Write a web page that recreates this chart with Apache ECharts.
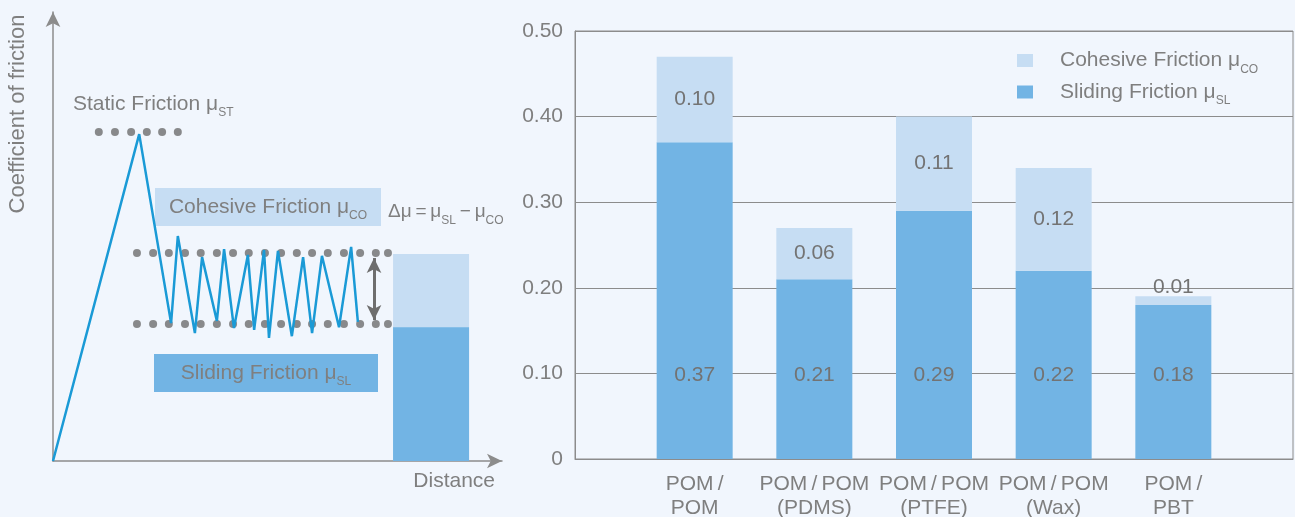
<!DOCTYPE html>
<html><head><meta charset="utf-8">
<script src="https://cdn.jsdelivr.net/npm/echarts@6/dist/echarts.min.js"></script>
<style>html,body{margin:0;padding:0;background:#f1f6fd;}#c{width:1295px;height:517px;}</style>
</head><body><div id="c"></div>
<script>
// ---------- Right chart data ----------
const categories = ['', 'POM\u2009/\nPOM', 'POM\u2009/\u2009POM\n(PDMS)', 'POM\u2009/\u2009POM\n(PTFE)', 'POM\u2009/\u2009POM\n(Wax)', 'POM\u2009/\nPBT', ''];
const slidingValues = [null, 0.37, 0.21, 0.29, 0.22, 0.18, null];
const cohesiveValues = [null, 0.10, 0.06, 0.11, 0.12, 0.01, null];
const yTickLabels = ['0', '0.10', '0.20', '0.30', '0.40', '0.50'];

// ---------- Left schematic data (arbitrary units) ----------
const frictionCurve = [[0,0],[19.2,72.8],[26.3,30.7],[27.8,50.1],[31.6,28.5],[33.2,45.4],[36.5,31.2],[38.1,47.2],[40.3,29.6],[43.4,45.9],[44.8,29.2],[47.0,47.0],[48.1,27.4],[50.1,46.8],[53.2,27.8],[55.7,45.4],[57.7,28.5],[59.9,45.7],[63.7,29.8],[66.4,47.7],[67.9,31.0]];
const staticLevel = 73.3;
const staticDotsX = [10.2, 13.8, 17.4, 20.9, 24.3, 27.8];
const cohesiveLevel = 46.3;
const slidingLevel = 30.5;
const levelDotsX = [18.7, 22.3, 25.8, 29.4, 32.9, 36.5, 40.1, 43.6, 47.2, 50.8, 54.3, 57.7, 61.2, 64.8, 68.4, 71.9, 74.6];
const deltaArrowX = 71.5;
const deltaArrowEnds = [45.2, 31.4];
const schematicBarX = 84.2;
const schematicSliding = 29.8;
const schematicCohesive = 16.3;

const FONT = 'Liberation Sans';
const TXT = '#7f7f7f';
const LIGHT = '#c6ddf3';
const MID = '#72b4e4';
const AX = '#8c8c8c';

function richStyles(extra) {
  const base = Object.assign({fontSize: 21, fontFamily: FONT, color: TXT, fill: TXT, lineHeight: 30}, extra || {});
  return {
    n: base,
    p: Object.assign({}, base, {padding: [0, 0, 0, 22]}),
    s: {fontSize: 12, fontFamily: FONT, color: TXT, fill: TXT, lineHeight: 10, verticalAlign: 'bottom', align: base.align}
  };
}

const chart = echarts.init(document.getElementById('c'));
const legendSubs = {'Cohesive Friction': 'CO', 'Sliding Friction': 'SL'};

chart.setOption({
  backgroundColor: '#f1f6fd',
  animation: false,
  textStyle: {fontFamily: FONT},
  grid: [
    {left: 575, top: 31, right: 2, bottom: 58, show: true, borderColor: AX, borderWidth: 1, backgroundColor: 'transparent',
      containLabel: false, outerBoundsMode: 'none'},
    {left: 53, top: 12, width: 449, height: 449, containLabel: false, outerBoundsMode: 'none'}
  ],
  legend: {
    orient: 'vertical', left: 1017, top: 50, padding: 0, itemGap: 6,
    itemWidth: 16, itemHeight: 13, icon: 'rect',
    data: ['Cohesive Friction', 'Sliding Friction'],
    formatter: name => '{p|' + name + ' \u03bc}{s|' + legendSubs[name] + '}',
    textStyle: {rich: richStyles()}
  },
  xAxis: [
    {
      type: 'category', gridIndex: 0, data: categories, boundaryGap: false,
      axisLine: {lineStyle: {color: AX, width: 1}},
      axisTick: {show: false},
      axisLabel: {interval: 0, color: TXT, fontSize: 21, fontFamily: FONT, lineHeight: 24, margin: 13},
      splitLine: {show: false}
    },
    {
      type: 'value', gridIndex: 1, min: 0, max: 100,
      axisLine: {show: true, onZero: false, symbol: ['none', 'arrow'], symbolSize: [11, 15], lineStyle: {color: AX, width: 1.5}},
      axisTick: {show: false}, axisLabel: {show: false}, splitLine: {show: false}
    }
  ],
  yAxis: [
    {
      type: 'value', gridIndex: 0, min: 0, max: 0.5, interval: 0.1,
      axisLine: {show: true, lineStyle: {color: AX, width: 1}},
      axisTick: {show: false},
      axisLabel: {color: TXT, fontSize: 21, fontFamily: FONT, margin: 12, padding: [4, 0, 0, 0],
        formatter: v => yTickLabels[Math.round(v * 10)]},
      splitLine: {lineStyle: {color: AX, width: 1}}
    },
    {
      type: 'value', gridIndex: 1, min: 0, max: 100,
      axisLine: {show: true, onZero: false, symbol: ['none', 'arrow'], symbolSize: [11, 15], lineStyle: {color: AX, width: 1.5}},
      axisTick: {show: false}, axisLabel: {show: false}, splitLine: {show: false}
    }
  ],
  series: [
    {
      name: 'Sliding Friction', type: 'bar', stack: 'mu', xAxisIndex: 0, yAxisIndex: 0,
      barWidth: 76, data: slidingValues, itemStyle: {color: MID},
      label: {show: true, position: 'insideBottom', distance: 73, color: '#737373', fontSize: 21, fontFamily: FONT,
        formatter: p => p.value.toFixed(2)}
    },
    {
      name: 'Cohesive Friction', type: 'bar', stack: 'mu', xAxisIndex: 0, yAxisIndex: 0,
      barWidth: 76, itemStyle: {color: LIGHT},
      data: cohesiveValues.map((v, i) => (v !== null && v < 0.03) ? {value: v, label: {position: 'top', distance: -1}} : v),
      label: {show: true, position: 'inside', color: '#737373', fontSize: 21, fontFamily: FONT,
        formatter: p => p.value.toFixed(2)}
    },
    // schematic: total (light) behind, sliding (mid) in front
    {
      type: 'bar', xAxisIndex: 1, yAxisIndex: 1, barWidth: 76, barGap: '-100%',
      data: [[schematicBarX, schematicSliding + schematicCohesive]], itemStyle: {color: LIGHT}, silent: true
    },
    {
      type: 'bar', xAxisIndex: 1, yAxisIndex: 1, barWidth: 76, barGap: '-100%',
      data: [[schematicBarX, schematicSliding]], itemStyle: {color: MID}, silent: true
    },
    {
      type: 'scatter', xAxisIndex: 1, yAxisIndex: 1, symbolSize: 8, itemStyle: {color: '#6e6e6e'}, z: 3,
      data: staticDotsX.map(x => [x, staticLevel])
        .concat(levelDotsX.map(x => [x, cohesiveLevel]))
        .concat(levelDotsX.map(x => [x, slidingLevel]))
    },
    {
      type: 'line', xAxisIndex: 1, yAxisIndex: 1, data: frictionCurve, showSymbol: false, z: 4,
      lineStyle: {color: '#1a9ad6', width: 2.5}, silent: true,
      markLine: {
        silent: true, symbol: ['arrow', 'arrow'], symbolSize: [11, 15],
        lineStyle: {color: '#6e6e6e', width: 3, type: 'solid'}, label: {show: false},
        data: [[{coord: [deltaArrowX, deltaArrowEnds[0]]}, {coord: [deltaArrowX, deltaArrowEnds[1]]}]]
      }
    }
  ],
  graphic: [
    {type: 'text', x: 7, y: 114, rotation: Math.PI / 2,
      style: {text: 'Coefficient of friction', fontSize: 22, fontFamily: FONT, fill: TXT, align: 'center', verticalAlign: 'top'}},
    {type: 'text', x: 73, y: 104,
      style: {text: '{n|Static Friction \u03bc}{s|ST}', rich: richStyles(), align: 'left', verticalAlign: 'middle'}},
    {type: 'text', x: 268, y: 207,
      style: {text: '{n|Cohesive Friction \u03bc}{s|CO}', rich: richStyles({align: 'center'}), align: 'center', verticalAlign: 'middle',
        width: 206, padding: [4, 10], backgroundColor: LIGHT}},
    {type: 'text', x: 388, y: 212,
      style: {text: '{n|\u0394\u03bc\u2009=\u2009\u03bc}{s|SL}{n|\u2009\u2212\u2009\u03bc}{s|CO}', rich: richStyles({fontSize: 19}), align: 'left', verticalAlign: 'middle'}},
    {type: 'text', x: 266, y: 373,
      style: {text: '{n|Sliding Friction \u03bc}{s|SL}', rich: richStyles({align: 'center'}), align: 'center', verticalAlign: 'middle',
        width: 204, padding: [4, 10], backgroundColor: MID}},
    {type: 'text', x: 495, y: 481,
      style: {text: 'Distance', fontSize: 21, fontFamily: FONT, fill: TXT, align: 'right', verticalAlign: 'middle'}}
  ]
});
</script></body></html>
